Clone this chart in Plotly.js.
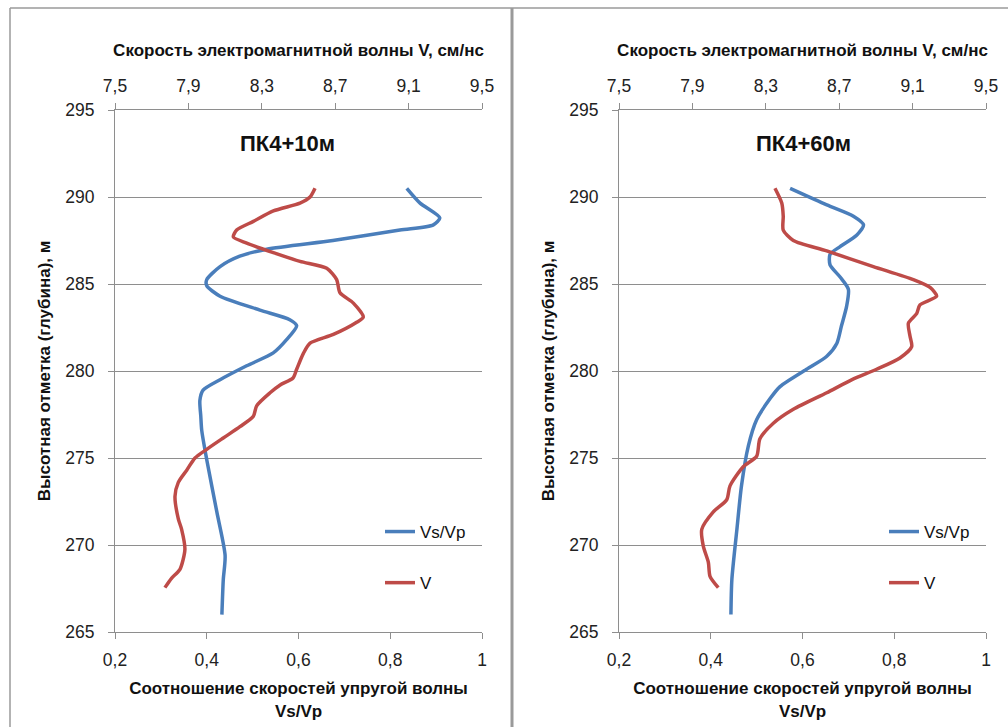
<!DOCTYPE html>
<html>
<head>
<meta charset="utf-8">
<script src="https://cdn.plot.ly/plotly-3.0.1.min.js"></script>
<style>html,body{margin:0;padding:0;background:#fff;}#chart{width:1008px;height:727px;}</style>
</head>
<body>
<div id="chart"></div>
<script>
// ---- Data (depth in m) ----
// Left panel: ПК4+10м
const depthRatio10 = [290.5,289.65,288.8,288.4,288.1,287.5,287.0,286.6,286.0,285.25,284.9,284.3,283.5,282.95,282.6,281.8,281.04,280.3,279.5,278.9,278.3,277.4,276.6,274.9,271.9,269.4,268.0,266.0];
const ratio10 = [0.836,0.865,0.908,0.894,0.821,0.675,0.531,0.472,0.429,0.400,0.400,0.429,0.516,0.581,0.596,0.574,0.545,0.487,0.429,0.392,0.385,0.387,0.389,0.400,0.422,0.440,0.436,0.433];
const depthV10 = [290.5,290.0,289.65,289.2,288.6,288.1,287.7,287.35,286.8,286.3,285.9,285.25,284.5,283.9,283.1,282.8,282.1,281.6,281.0,280.1,279.6,279.2,278.75,278.0,277.4,276.8,276.15,275.5,275.0,274.3,273.6,272.8,271.5,270.9,269.75,268.6,268.1,267.55];
const v10 = [8.59,8.563,8.508,8.363,8.254,8.163,8.145,8.218,8.363,8.508,8.654,8.708,8.726,8.799,8.853,8.817,8.69,8.563,8.526,8.49,8.47,8.40,8.345,8.272,8.254,8.181,8.09,8.0,7.936,7.891,7.845,7.827,7.845,7.863,7.881,7.854,7.809,7.772];
// Right panel: ПК4+60м
const depthRatio60 = [290.5,289.55,288.9,288.4,287.8,287.15,286.7,286.1,285.4,284.7,283.7,282.6,281.6,280.85,280.1,279.1,278.4,277.2,275.7,273.4,270.9,268.0,266.0];
const ratio60 = [0.573,0.653,0.711,0.733,0.718,0.682,0.660,0.660,0.682,0.700,0.696,0.685,0.675,0.653,0.609,0.551,0.529,0.500,0.482,0.467,0.457,0.446,0.444];
const depthV60 = [290.5,289.65,288.9,288.1,287.5,286.9,286.0,285.25,284.8,284.3,283.8,283.3,282.75,282.0,281.4,280.75,280.1,279.5,278.75,277.8,277.0,276.1,275.1,274.5,273.4,272.6,271.9,270.9,269.95,269.0,268.2,267.55];
const v60 = [8.35,8.387,8.395,8.395,8.45,8.632,8.886,9.104,9.195,9.231,9.14,9.122,9.077,9.086,9.095,9.031,8.904,8.77,8.632,8.45,8.341,8.268,8.25,8.177,8.105,8.087,8.014,7.951,7.959,7.987,7.996,8.041];

const panelTitles = ['ПК4+10м', 'ПК4+60м'];
const seriesNames = ['Vs/Vp', 'V'];
const topAxisTitle = 'Скорость электромагнитной волны V, см/нс';
const bottomAxisTitle = 'Соотношение скоростей упругой волны<br>Vs/Vp';
const yAxisTitle = 'Высотная отметка (глубина), м';

// ---- Styling ----
const BLUE = '#4A7EBB', RED = '#BE4B48', GRID = '#8E8E8E';
const FONT = 'Liberation Sans, Arial, sans-serif';
const W = 1008, H = 727;
const yDom = [1 - 632 / H, 1 - 110 / H];
const xDomL = [115 / W, 482 / W];
const xDomR = [619 / W, 986 / W];

function line(color) { return {color: color, width: 3.5, shape: 'spline', smoothing: 0.7}; }

const traces = [
  {x: ratio10, y: depthRatio10, name: seriesNames[0], xaxis: 'x', yaxis: 'y', mode: 'lines', line: line(BLUE), legend: 'legend', legendgroup: 'a'},
  {x: v10, y: depthV10, name: seriesNames[1], xaxis: 'x2', yaxis: 'y', mode: 'lines', line: line(RED), legend: 'legend', legendgroup: 'b'},
  {x: ratio60, y: depthRatio60, name: seriesNames[0], xaxis: 'x3', yaxis: 'y2', mode: 'lines', line: line(BLUE), legend: 'legend2', legendgroup: 'c'},
  {x: v60, y: depthV60, name: seriesNames[1], xaxis: 'x4', yaxis: 'y2', mode: 'lines', line: line(RED), legend: 'legend2', legendgroup: 'd'}
];

const tickFont = {family: FONT, size: 17.5, color: '#222'};
const titleFont = {family: FONT, size: 17, color: '#111', weight: 'bold'};

function bottomX(dom, anchor) {
  return {domain: dom, anchor: anchor, range: [0.2, 1], dtick: 0.2, tick0: 0.2, side: 'bottom',
    showline: true, linecolor: GRID, linewidth: 1, ticks: 'outside', ticklen: 6, tickcolor: GRID,
    showgrid: false, zeroline: false, tickfont: tickFont, ticklabelstandoff: 6,
    title: {text: bottomAxisTitle, font: titleFont, standoff: 13}};
}
function topX(over, anchor) {
  return {overlaying: over, anchor: anchor, side: 'top', range: [7.5, 9.5], dtick: 0.4, tick0: 7.5,
    showline: true, linecolor: GRID, linewidth: 1, ticks: 'outside', ticklen: 6, tickcolor: GRID,
    showgrid: false, zeroline: false, tickfont: tickFont, ticklabelstandoff: 4,
    title: {text: topAxisTitle, font: titleFont, standoff: 15}};
}
function yAx(anchor) {
  return {domain: yDom, anchor: anchor, range: [265, 295], dtick: 5, tick0: 265,
    showline: true, linecolor: GRID, linewidth: 1, ticks: 'outside', ticklen: 6, tickcolor: GRID,
    showgrid: true, gridcolor: GRID, gridwidth: 1, zeroline: false, tickfont: tickFont, ticklabelstandoff: 10,
    title: {text: yAxisTitle, font: titleFont, standoff: 10}};
}
function legendAt(xpx) {
  return {x: xpx / W, y: 1 - 514 / H, xanchor: 'left', yanchor: 'top', bgcolor: 'rgba(0,0,0,0)',
    font: {family: FONT, size: 17, color: '#111'}, tracegroupgap: 26, itemwidth: 30};
}

const layout = {
  width: W, height: H,
  margin: {l: 0, r: 0, t: 0, b: 0},
  paper_bgcolor: '#fff', plot_bgcolor: '#fff',
  separators: ', ',
  showlegend: true,
  font: {family: FONT},
  xaxis: bottomX(xDomL, 'y'),
  xaxis2: topX('x', 'y'),
  xaxis3: bottomX(xDomR, 'y2'),
  xaxis4: topX('x3', 'y2'),
  yaxis: yAx('x'),
  yaxis2: yAx('x3'),
  legend: legendAt(380),
  legend2: legendAt(884),
  annotations: [
    {text: panelTitles[0], xref: 'paper', yref: 'paper', x: 287 / W, y: 1 - 143 / H, xanchor: 'center', yanchor: 'middle', showarrow: false,
     font: {family: FONT, size: 22, color: '#111', weight: 'bold'}},
    {text: panelTitles[1], xref: 'paper', yref: 'paper', x: 803 / W, y: 1 - 143 / H, xanchor: 'center', yanchor: 'middle', showarrow: false,
     font: {family: FONT, size: 22, color: '#111', weight: 'bold'}}
  ],
  shapes: [
    {type: 'line', xref: 'paper', yref: 'paper', x0: 512 / W, x1: 512 / W, y0: 0, y1: 1 - 8 / H, line: {color: '#9A9A9A', width: 3}},
    {type: 'line', xref: 'paper', yref: 'paper', x0: 10 / W, x1: 1, y0: 1 - 8 / H, y1: 1 - 8 / H, line: {color: '#9A9A9A', width: 1.5}},
    {type: 'line', xref: 'paper', yref: 'paper', x0: 10 / W, x1: 10 / W, y0: 0, y1: 1 - 8 / H, line: {color: '#9A9A9A', width: 1.5}}
  ]
};

Plotly.newPlot('chart', traces, layout, {displayModeBar: false, staticPlot: true});
</script>
</body>
</html>
